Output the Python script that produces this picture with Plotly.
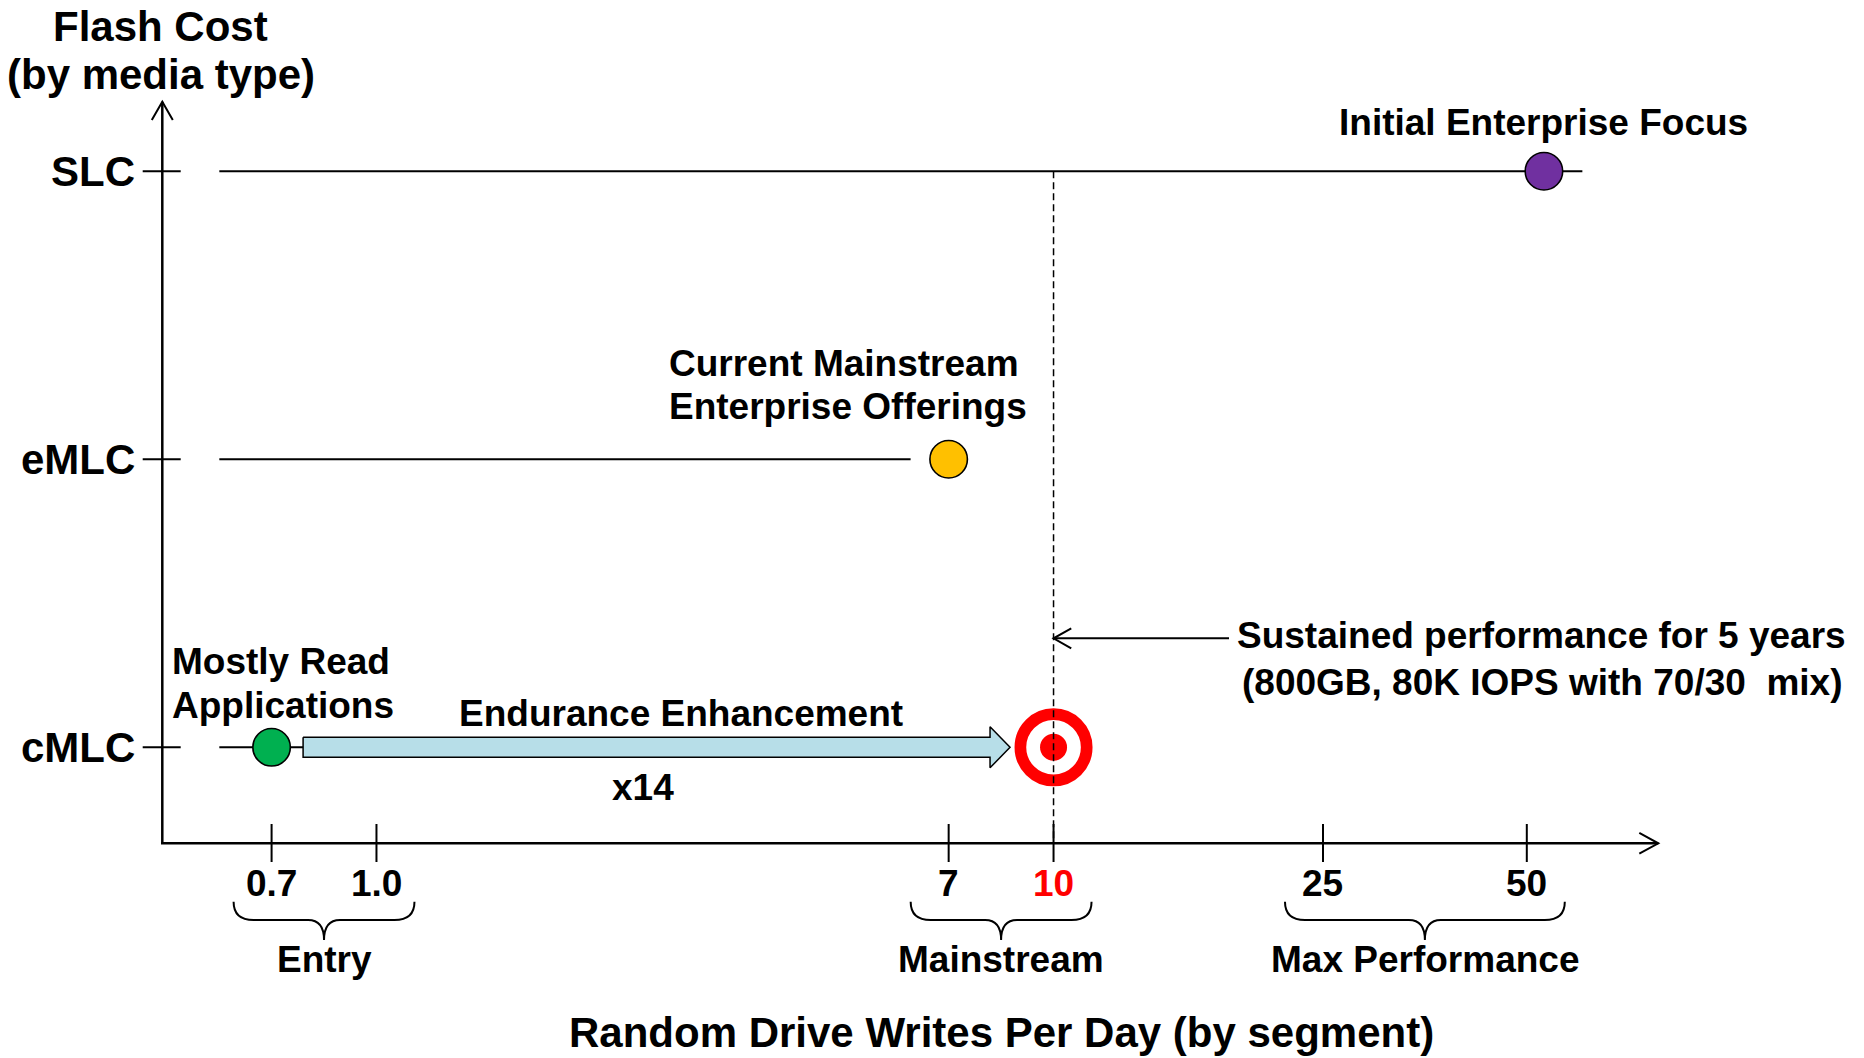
import numpy as np
import plotly.graph_objects as go

# ---------------- data ----------------
media_types = ["cMLC", "eMLC", "SLC"]            # y categories (bottom -> top)
media_line_start = [0.586, 0.586, 0.586]         # DWPD where each media line starts
media_line_end = [0.85, 6.15, 60.4]              # DWPD where each media line ends

dwpd_ticks = [0.7, 1.0, 7, 10, 25, 50]
dwpd_tick_labels = ["0.7", "1.0", "7", "10", "25", "50"]
highlight_tick = "10"

segment_names = ["Entry", "Mainstream", "Max Performance"]
segment_bounds = [(0.7, 1.0), (7, 10), (25, 50)]

offer_media = ["cMLC", "eMLC", "SLC"]
offer_dwpd = [0.7, 7, 53]
offer_colors = ["#00B050", "#FFC000", "#7030A0"]

target_media = "cMLC"
target_dwpd = 10
enhancement_label = "x14"

# ---------------- geometry helpers ----------------
W, H = 1864, 1058
X_RANGE = [-0.55603, 2.19700]   # log10 range
Y_RANGE = [-1.07863, 2.59434]
FONT = "Liberation Sans, Arial, Helvetica, sans-serif"


def px_x(v):
    return (np.log10(v) - X_RANGE[0]) / (X_RANGE[1] - X_RANGE[0]) * W


def x_px(p):
    return 10 ** (X_RANGE[0] + p / W * (X_RANGE[1] - X_RANGE[0]))


def py_y(y):
    return (Y_RANGE[1] - y) / (Y_RANGE[1] - Y_RANGE[0]) * H


def y_py(p):
    return Y_RANGE[1] - p / H * (Y_RANGE[1] - Y_RANGE[0])


def pp(px, py):
    return "%.6f,%.6f" % (px / W, 1 - py / H)


def yidx(m):
    return media_types.index(m)


fig = go.Figure()

# media lines
for i, m in enumerate(media_types):
    fig.add_trace(go.Scatter(x=[media_line_start[i], media_line_end[i]], y=[i, i],
                             mode="lines", line=dict(color="black", width=2),
                             hoverinfo="skip"))

# x ticks
tx, ty = [], []
for v in dwpd_ticks:
    tx += [v, v, None]
    ty += [y_py(824), y_py(862), None]
fig.add_trace(go.Scatter(x=tx, y=ty, mode="lines", line=dict(color="black", width=2),
                         hoverinfo="skip"))

# block arrow (endurance enhancement) from cMLC point to target
yc = py_y(yidx(target_media))
xs = px_x(offer_dwpd[0]) + 31.5
xt = px_x(target_dwpd) - 43.5
xb = xt - 20
pts = [(xs, yc - 10), (xb, yc - 10), (xb, yc - 20.5), (xt, yc), (xb, yc + 20.5),
       (xb, yc + 10), (xs, yc + 10), (xs, yc - 10)]
fig.add_trace(go.Scatter(x=[x_px(p[0]) for p in pts], y=[y_py(p[1]) for p in pts],
                         mode="lines", fill="toself", fillcolor="#B7DEE8",
                         line=dict(color="black", width=1.5), hoverinfo="skip"))

# target
ty0 = yidx(target_media)
fig.add_trace(go.Scatter(x=[target_dwpd], y=[ty0], mode="markers",
                         marker=dict(size=66.3, color="white",
                                     line=dict(color="#FF0000", width=11.7)),
                         hoverinfo="skip"))
fig.add_trace(go.Scatter(x=[target_dwpd], y=[ty0], mode="markers",
                         marker=dict(size=27, color="#FF0000", line=dict(width=0)),
                         hoverinfo="skip"))

# dashed line at target DWPD
fig.add_trace(go.Scatter(x=[target_dwpd, target_dwpd], y=[yidx("SLC"), y_py(843.3)],
                         mode="lines", line=dict(color="black", width=1.5, dash="7px,4px"),
                         hoverinfo="skip"))

# offering dots
fig.add_trace(go.Scatter(x=offer_dwpd, y=[yidx(m) for m in offer_media], mode="markers",
                         marker=dict(size=37.5, color=offer_colors,
                                     line=dict(color="black", width=1.6)),
                         hoverinfo="skip"))

shapes = []
# y-axis ticks
for i, m in enumerate(media_types):
    shapes.append(dict(type="line", xref="paper", yref="y", x0=142.7 / W, x1=180.7 / W,
                       y0=i, y1=i, line=dict(color="black", width=2)))

# axes with arrowheads
ax_line = dict(color="black", width=2.5)
shapes.append(dict(type="path", xref="paper", yref="paper", line=ax_line,
                   path="M" + pp(162.3, 843.3) + " L" + pp(162.3, 101.7)))
shapes.append(dict(type="path", xref="paper", yref="paper", line=dict(color="black", width=2),
                   path="M" + pp(151.8, 120) + " L" + pp(162.3, 101.7) + " L" + pp(172.8, 120)))
shapes.append(dict(type="path", xref="paper", yref="paper", line=ax_line,
                   path="M" + pp(161.0, 843.3) + " L" + pp(1658.3, 843.3)))
shapes.append(dict(type="path", xref="paper", yref="paper", line=dict(color="black", width=2),
                   path="M" + pp(1639.3, 832.9) + " L" + pp(1658.3, 843.3) + " L" + pp(1639.3, 853.7)))

# sustained performance arrow pointing to target line
tip = px_x(target_dwpd)
shapes.append(dict(type="path", xref="paper", yref="paper", line=dict(color="black", width=2),
                   path="M" + pp(1229, 638.3) + " L" + pp(tip, 638.3)))
shapes.append(dict(type="path", xref="paper", yref="paper", line=dict(color="black", width=2),
                   path="M" + pp(tip + 17.7, 628.3) + " L" + pp(tip, 638.3) + " L" + pp(tip + 17.7, 648.3)))

# braces
yt, ym, yb = 901.7, 920.0, 940.0
re_, rm = 20, 16
for (v0, v1) in segment_bounds:
    xl = px_x(v0) - 38
    xr = px_x(v1) + 38
    xc = (px_x(v0) + px_x(v1)) / 2
    path = ("M" + pp(xl, yt) + " Q" + pp(xl, ym) + " " + pp(xl + re_, ym) +
            " L" + pp(xc - rm, ym) + " Q" + pp(xc, ym) + " " + pp(xc, yb) +
            " Q" + pp(xc, ym) + " " + pp(xc + rm, ym) +
            " L" + pp(xr - re_, ym) + " Q" + pp(xr, ym) + " " + pp(xr, yt))
    shapes.append(dict(type="path", xref="paper", yref="paper", path=path,
                       line=dict(color="black", width=2)))

annotations = []


def label(text, x, y, size=37, xanchor="center", xref="paper", yref="paper", color="black"):
    annotations.append(dict(text="<b>" + text + "</b>", x=x, y=y, xref=xref, yref=yref,
                            showarrow=False, xanchor=xanchor, yanchor="middle",
                            font=dict(family=FONT, size=size, color=color)))


# axis titles
label("Flash Cost", 160.8 / W, 1 - 26.3 / H, size=42)
label("(by media type)", 160.5 / W, 1 - 74.5 / H, size=42)
label("Random Drive Writes Per Day (by segment)", 1001 / W, 1 - 1032.5 / H, size=42)

# y tick labels
for i, m in enumerate(media_types):
    label(m, 137 / W, i, size=42, xanchor="right", yref="y")

# x tick labels
for v, t in zip(dwpd_ticks, dwpd_tick_labels):
    label(t, float(np.log10(v)), 1 - 883.8 / H, xref="x",
          color="#FF0000" if t == highlight_tick else "black")

# segment labels
for name, (v0, v1) in zip(segment_names, segment_bounds):
    label(name, float((np.log10(v0) + np.log10(v1)) / 2), 1 - 959 / H, xref="x")

# callouts
label("Initial Enterprise Focus", float(np.log10(offer_dwpd[2])), 1 - 122.4 / H, xref="x")
label("Current Mainstream", 667 / W, 1 - 363.7 / H, xanchor="left")
label("Enterprise Offerings", 667 / W, 1 - 406.3 / H, xanchor="left")
label("Mostly Read", 169.5 / W, 1 - 661.2 / H, xanchor="left")
label("Applications", 169.5 / W, 1 - 705.8 / H, xanchor="left")
label("Endurance Enhancement", 681.3 / W, 1 - 713.5 / H)
label(enhancement_label, 642.5 / W, 1 - 787 / H)
label("Sustained performance for 5 years", 1541.5 / W, 1 - 635 / H)
label("(800GB, 80K IOPS with 70/30\u00a0 mix)", 1541.5 / W, 1 - 682.5 / H)

fig.update_layout(
    width=W, height=H,
    margin=dict(l=0, r=0, t=0, b=0, pad=0),
    paper_bgcolor="white", plot_bgcolor="white",
    showlegend=False, hovermode=False,
    xaxis=dict(type="log", range=X_RANGE, visible=False, domain=[0, 1], fixedrange=True),
    yaxis=dict(range=Y_RANGE, visible=False, domain=[0, 1], fixedrange=True),
    shapes=shapes, annotations=annotations,
)

fig.write_html("out.html", config={"displayModeBar": False},
               post_script="document.body.style.margin='0';document.body.style.overflow='hidden';")
